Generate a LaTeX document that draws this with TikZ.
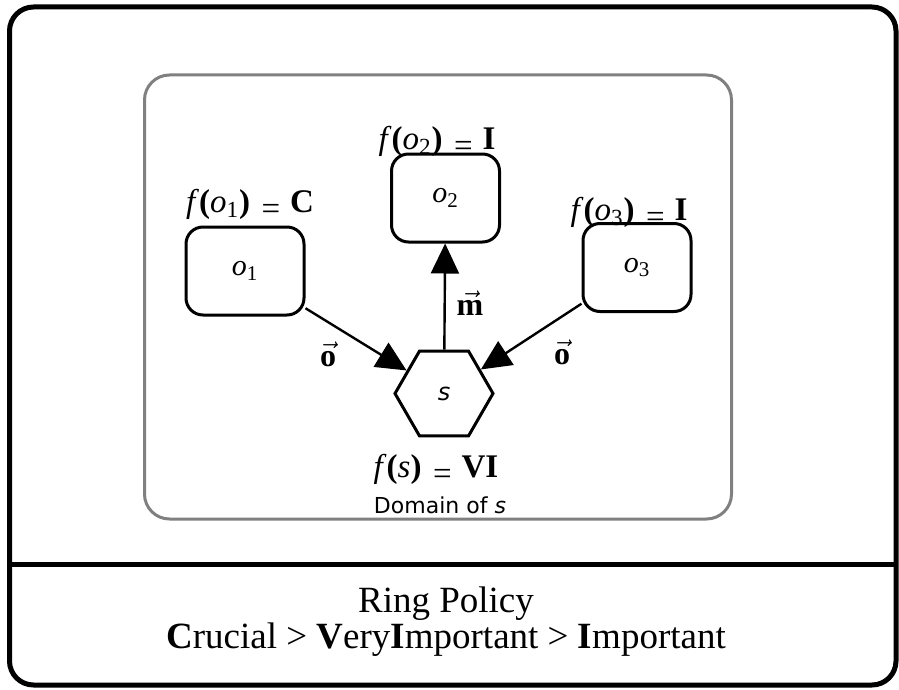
\documentclass[tikz,border=0pt]{standalone}
\usepackage{fontspec}
\setmainfont{Liberation Serif}
\setsansfont{DejaVu Sans}
\usetikzlibrary{arrows.meta,shapes.geometric}
\newcommand{\fval}[2]{\textit{f}\textbf{(}#1\textbf{)}\hspace{0.35em}\raisebox{-3.5pt}{=}\hspace{0.3em}\textbf{#2}}
\begin{document}
\begin{tikzpicture}[x=0.5pt,y=-0.5pt, >={Triangle[length=15pt,width=14pt]}, line width=1.2pt,
  obj/.style={draw, rounded corners=8.5pt, line width=1.5pt, minimum width=54pt, minimum height=44pt, font=\fontsize{15}{18}\selectfont},
  subj/.style={draw, regular polygon, regular polygon sides=6, minimum size=49pt, inner sep=0pt, line width=1.5pt, font=\sffamily\itshape\fontsize{12}{14}\selectfont},
  lab/.style={anchor=base, inner sep=0pt, font=\fontsize{16.5}{19}\selectfont},
  vlab/.style={inner sep=0pt, font=\fontsize{16}{19}\selectfont}]
\useasboundingbox (0,0) rectangle (899,690);
% frame and domain
\draw[line width=2.5pt, rounded corners=12pt] (9.5,7) rectangle (896,685);
\draw[line width=2.5pt] (9.5,564.5)--(896,564.5);
\draw[gray, line width=1.5pt, rounded corners=12.5pt] (144.5,75) rectangle (731.5,519);

\node[obj, minimum width=59pt](o1) at (245,271){\textit{o}\textsubscript{1}};
\node[obj](o2) at (445.5,198){\textit{o}\textsubscript{2}};
\node[obj](o3) at (637,267.5){\textit{o}\textsubscript{3}};
\node[subj](s) at (444,393.5){s};

\node[lab](fo1) at (250,212){\fval{\textit{o}\textsubscript{1}}{C}};
\node[lab](fo2) at (437,149){\fval{\textit{o}\textsubscript{2}}{I}};
\node[lab](fo3) at (629,220){\fval{\textit{o}\textsubscript{3}}{I}};
\node[lab](fs) at (436,477){\fval{\textit{s}}{VI}};
\node[anchor=base, inner sep=0pt, font=\sffamily\fontsize{11}{13}\selectfont](dom) at (440,513){Domain of \textit{s}};

\draw[->](o1)--(s);
\draw[->](o3)--(s);
\draw[->](s)--(o2);
\node[vlab](lo1) at (328,354){$\vec{\mathbf{o}}$};
\node[vlab](lm) at (470,303){$\vec{\mathbf{m}}$};
\node[vlab](lo3) at (562,352){$\vec{\mathbf{o}}$};

% policy
\node[anchor=base, inner sep=0pt, align=center, font=\fontsize{18.5}{16.5}\selectfont](ring) at (446,648){Ring Policy\\
  \textbf{C}rucial > \textbf{V}ery\textbf{I}mportant > \textbf{I}mportant};
\end{tikzpicture}
\end{document}
